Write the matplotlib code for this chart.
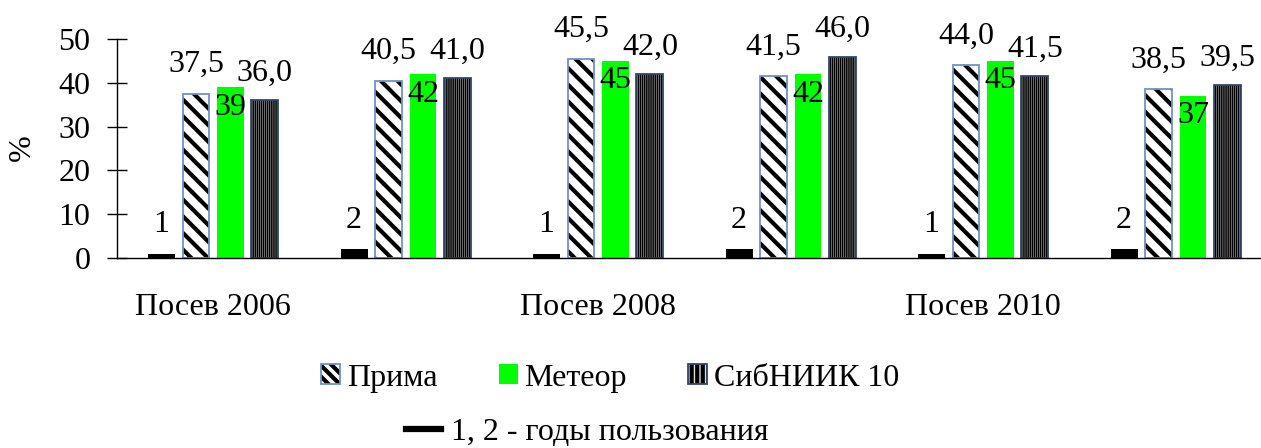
import matplotlib
matplotlib.use("Agg")
import matplotlib.pyplot as plt
import numpy as np
from matplotlib.patches import Patch
from matplotlib.lines import Line2D

plt.rcParams['font.family'] = ['Liberation Serif', 'DejaVu Serif']
plt.rcParams['font.size'] = 23

groups = ['Посев 2006', '', 'Посев 2008', '', 'Посев 2010', '']
years = [1, 2, 1, 2, 1, 2]
prima = [37.5, 40.5, 45.5, 41.5, 44.0, 38.5]
meteor = [39, 42, 45, 42, 45, 37]
sib = [36.0, 41.0, 42.0, 46.0, 41.5, 39.5]

x = np.arange(len(groups))
step = 0.179
w = 0.14

fig = plt.figure(figsize=(12.61, 4.48), dpi=100)
ax = fig.add_axes([117 / 1261, 1 - 258 / 448, 1155 / 1261, 219 / 448])


def hatched(xs, vals, hatch, hlw, edge):
    bars = ax.bar(xs, vals, w, color='white', edgecolor='black', hatch=hatch, linewidth=0)
    for b in bars:
        if hasattr(b, 'set_hatch_linewidth'):
            b.set_hatch_linewidth(hlw)
    ax.bar(xs, vals, w, color='none', edgecolor=edge, linewidth=1.3)
    return bars


plt.rcParams['hatch.linewidth'] = 3.0
b_year = ax.bar(x - 1.5 * step, years, w, color='black')
b_prima = hatched(x - 0.5 * step, prima, '\\\\', 3.0, '#6b93cc')
b_met = ax.bar(x + 0.5 * step, meteor, w, color='#00ff00')
b_sib = hatched(x + 1.5 * step, sib, '||||||||', 1.2, '#2f4a6b')

fmt = lambda v: f'{v:.1f}'.replace('.', ',')
for i in range(len(x)):
    ax.annotate(str(years[i]), (x[i] - 1.5 * step, years[i]), xytext=(0, 29),
                textcoords='offset pixels', ha='center', va='center')
    ax.annotate(fmt(prima[i]), (x[i] - 0.5 * step, prima[i]), xytext=(0, 29),
                textcoords='offset pixels', ha='center', va='center')
    ax.annotate(str(meteor[i]), (x[i] + 0.5 * step, meteor[i]), xytext=(0, -20),
                textcoords='offset pixels', ha='center', va='center')
    ax.annotate(fmt(sib[i]), (x[i] + 1.5 * step, sib[i]), xytext=(0, 27),
                textcoords='offset pixels', ha='center', va='center')

ax.set_xlim(-0.5, 5.5)
ax.set_ylim(0, 50)
ax.set_yticks([0, 10, 20, 30, 40, 50])
ax.set_xticks([0, 2, 4])
ax.set_xticklabels([groups[0], groups[2], groups[4]])
ax.tick_params(axis='x', length=0, pad=25)
ax.tick_params(axis='y', direction='inout', length=14, width=1, pad=12)
for s in ['top', 'right']:
    ax.spines[s].set_visible(False)
ax.spines['left'].set_linewidth(1)
ax.spines['bottom'].set_linewidth(1)
fig.text(22 / 1261, 1 - 148 / 448, '%', rotation=90, ha='center', va='center')

h_prima = (Patch(facecolor='white', edgecolor='black', hatch='\\\\\\', linewidth=0),
           Patch(facecolor='none', edgecolor='#6b93cc', linewidth=1.3))
h_met = Patch(facecolor='#00ff00', edgecolor='none')
h_sib = (Patch(facecolor='#dddddd', edgecolor='black', hatch='|||', linewidth=0),
         Patch(facecolor='none', edgecolor='#2f4a6b', linewidth=1.3))
fig.legend([h_prima, h_met, h_sib], ['Прима', 'Метеор', 'СибНИИК 10'],
           loc='center', bbox_to_anchor=(610 / 1261, 1 - 378 / 448), ncol=3,
           frameon=False, handlelength=0.6, handleheight=0.6, handletextpad=0.2,
           columnspacing=1.92, borderpad=0)
fig.legend([Line2D([], [], color='black', linewidth=4.5)], ['1, 2 - годы пользования'],
           loc='center', bbox_to_anchor=(587 / 1261, 1 - 432 / 448),
           frameon=False, handlelength=1.1, handletextpad=0.3, borderpad=0)

fig.savefig('out.png', dpi=100)
